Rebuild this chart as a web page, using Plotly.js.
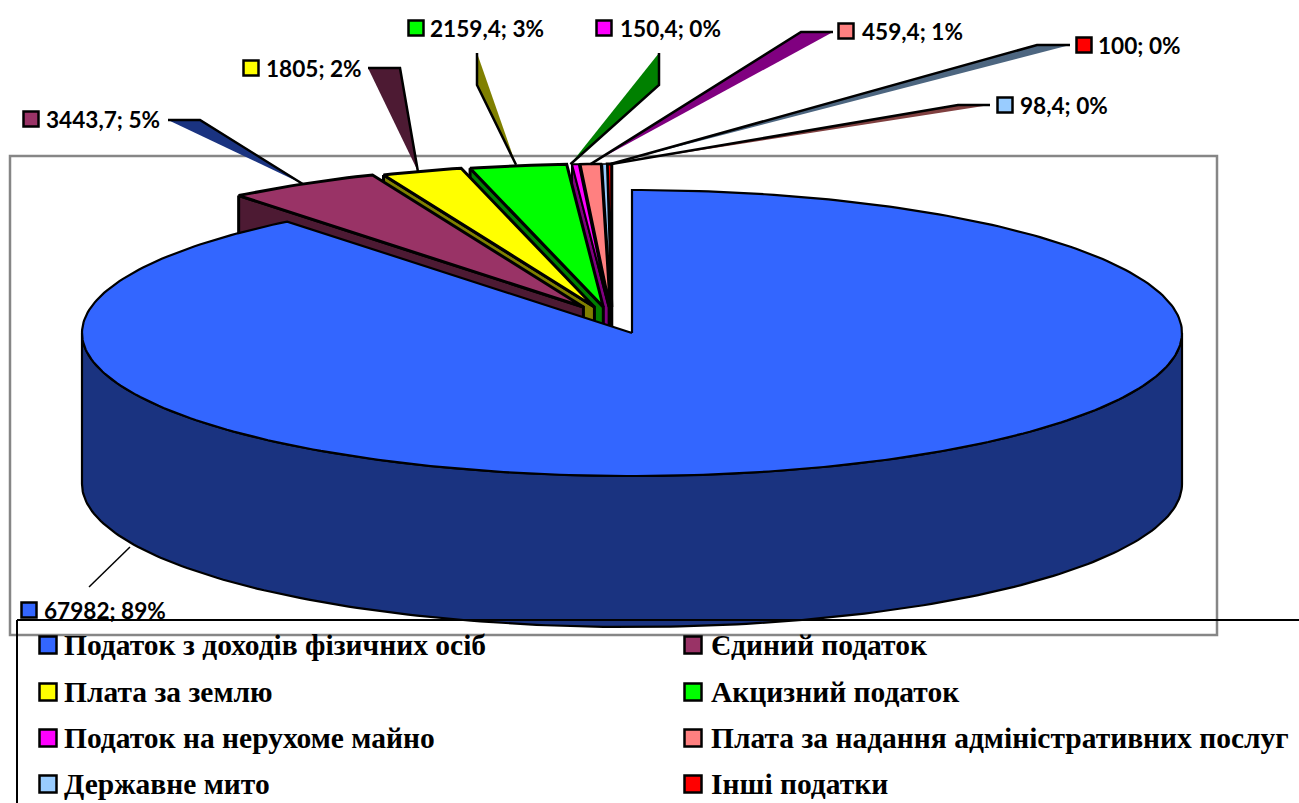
<!DOCTYPE html>
<html>
<head>
<meta charset="utf-8">
<script src="https://cdn.plot.ly/plotly-3.0.1.min.js"></script>
<style>html,body{margin:0;padding:0;background:#fff;overflow:hidden}#chart{width:1299px;height:803px}</style>
</head>
<body>
<div id="chart"></div>
<script>
// ---- data ----
const categories = ["Податок з доходів фізичних осіб","Єдиний податок","Плата за землю","Акцизний податок","Податок на нерухоме майно","Плата за надання адміністративних послуг","Державне мито","Інші податки"];
const values = [67982, 3443.7, 1805, 2159.4, 150.4, 459.4, 98.4, 100];

// ---- styles ----
const topColors  = ["#3366FF","#993366","#FFFF00","#00FF00","#FF00FF","#FF8080","#99CCFF","#FF0000"];
const sideColors = ["#1A3380","#4D1A33","#808000","#008000","#800080","#804040","#4D6680","#800000"];
// wedge fill behind each leader line
const leaderFill = [null,"#1A3380","#4D1A33","#808000","#008000","#800080","#804040","#4D6680"];
const outlineWidth = [2.2,3,3,3,2,2.5,1.6,3];

// ---- layout ----
const W = 1299, H = 803;
const cx = 632, cy = 333, rx = 550, ry = 143, depth = 151;
const DEG = Math.PI / 180;
const labelFont = "Lato, Carlito, sans-serif";
const legendFont = "'Liberation Serif', serif";
// data label: swatch centre, text start
const labelPos = [[29,610,44],[31,119,46],[251,68,266],[416,28,430],[604,28,620],[846,31,862],[1005,105,1020],[1084,45,1098]];
// leader: far point, elbow point, rim anchor shift
const leaderPos = [
  null,
  [[168,120],[200,120],[0,0]],
  [[368,68],[400,68],[-4,0]],
  [[477,53],[477,85],[-2,-1]],
  [[659,53],[659,85],[-5,0]],
  [[833,32],[801,32],[0,0]],
  [[990,105],[958,105],[7,0]],
  [[1070,45],[1037,45],[1,0]]
];
const legendRows = [645, 692, 738, 784];
const legendCols = [[48,64],[693,711]];
const frame = {x0:10, y0:156, x1:1217, y1:635};

// ---- helpers ----
const total = values.reduce((a,b)=>a+b,0);
function rim(deg, ox, oy) {
  return [cx + ox + rx*Math.sin(deg*DEG), cy + oy - ry*Math.cos(deg*DEG)];
}
function arc(a0, a1, ox, oy) {
  const pts = [], n = Math.max(2, Math.ceil(Math.abs(a1-a0)));
  for (let i=0;i<=n;i++) pts.push(rim(a0+(a1-a0)*i/n, ox, oy));
  return pts;
}
function poly(pts, fill, lw) {
  return {type:"scatter", mode: lw ? "lines" : "none", x:pts.map(p=>p[0]), y:pts.map(p=>p[1]),
    fill:"toself", fillcolor:fill, line:{color:"#000", width:lw||0}, hoverinfo:"skip", showlegend:false};
}
function path(pts, lw) {
  return {type:"scatter", mode:"lines", x:pts.map(p=>p[0]), y:pts.map(p=>p[1]),
    line:{color:"#000", width:lw}, hoverinfo:"skip", showlegend:false};
}
function labelText(v) {
  return String(v).replace(".",",") + "; " + Math.round(v/total*100) + "%";
}

// ---- slice angles, clockwise from 12 o'clock ----
let acc = 0;
const spans = values.map(v => {
  const a0 = acc/total*360; acc += v;
  const a1 = acc/total*360;
  return {a0, a1, mid:(a0+a1)/2};
});

const traces = [];

// exploded small slices, drawn from the 12 o'clock side back to the largest one
for (let i = values.length-1; i >= 1; i--) {
  const s = spans[i];
  const ox = -20 + 56*Math.sin(s.mid*DEG), oy = -26;
  s.ox = ox; s.oy = oy;
  const apex = [cx+ox, cy+oy];
  const start = rim(s.a0, ox, oy);
  traces.push(poly([start, apex, [apex[0],apex[1]+depth], [start[0],start[1]+depth], start], sideColors[i], outlineWidth[i]));
  traces.push(poly([apex].concat(arc(s.a0, s.a1, ox, oy), [apex]), topColors[i], outlineWidth[i]));
}

// main slice: outer wall and top
traces.push(poly(arc(90,270,0,0).concat(arc(270,90,0,depth), [rim(90,0,0)]), sideColors[0], outlineWidth[0]));
traces.push(poly([[cx,cy]].concat(arc(0, spans[0].a1, 0, 0), [[cx,cy]]), topColors[0], outlineWidth[0]));

// leader wedges
for (let i = 1; i < values.length; i++) {
  const s = spans[i], lp = leaderPos[i];
  const r = rim(s.mid, s.ox, s.oy);
  const end = [r[0]+lp[2][0], r[1]+lp[2][1]];
  traces.push(poly([lp[0], lp[1], end, lp[0]], leaderFill[i], 0));
  traces.push(path([lp[0], lp[1], end], 2.5));
}
// main slice leader
traces.push(path([[130,547],[89,587]], 1.5));

// swatches
const swatch = (xs, ys, colors, size) => ({type:"scatter", mode:"markers", x:xs, y:ys,
  marker:{symbol:"square", size, color:colors, line:{color:"#000", width:2.5}}, hoverinfo:"skip", showlegend:false});
traces.push(swatch(categories.map((_,i)=>labelPos[i][0]), categories.map((_,i)=>labelPos[i][1]), topColors, 15));
traces.push(swatch(categories.map((_,i)=>legendCols[i%2][0]), categories.map((_,i)=>legendRows[Math.floor(i/2)]), topColors, 17));

// text
const annotations = [];
values.forEach((v,i) => annotations.push({x:labelPos[i][2], y:labelPos[i][1], xref:"x", yref:"y", xanchor:"left", yanchor:"middle",
  text:"<b>"+labelText(v)+"</b>", showarrow:false, font:{family:labelFont, size:22.6, color:"#000"}, borderpad:0, borderwidth:0}));
categories.forEach((c,i) => annotations.push({x:legendCols[i%2][1], y:legendRows[Math.floor(i/2)], xref:"x", yref:"y", xanchor:"left", yanchor:"middle",
  text:"<b>"+c+"</b>", showarrow:false, font:{family:legendFont, size:29.5, color:"#000"}, borderpad:0, borderwidth:0}));

const layout = {
  width:W, height:H, margin:{l:0,r:0,t:0,b:0}, paper_bgcolor:"#fff", plot_bgcolor:"#fff", showlegend:false,
  xaxis:{range:[0,W], visible:false, fixedrange:true},
  yaxis:{range:[H,0], visible:false, fixedrange:true},
  shapes:[
    {type:"rect", layer:"below", xref:"x", yref:"y", x0:frame.x0, y0:frame.y0, x1:frame.x1, y1:frame.y1, line:{color:"#868686", width:2.5}},
    {type:"line", layer:"above", xref:"x", yref:"y", x0:17, y0:620, x1:W, y1:620, line:{color:"#000", width:2}},
    {type:"line", layer:"above", xref:"x", yref:"y", x0:17, y0:620, x1:17, y1:H, line:{color:"#000", width:2}}
  ],
  annotations
};
Plotly.newPlot("chart", traces, layout, {staticPlot:true, displayModeBar:false});
</script>
</body>
</html>
